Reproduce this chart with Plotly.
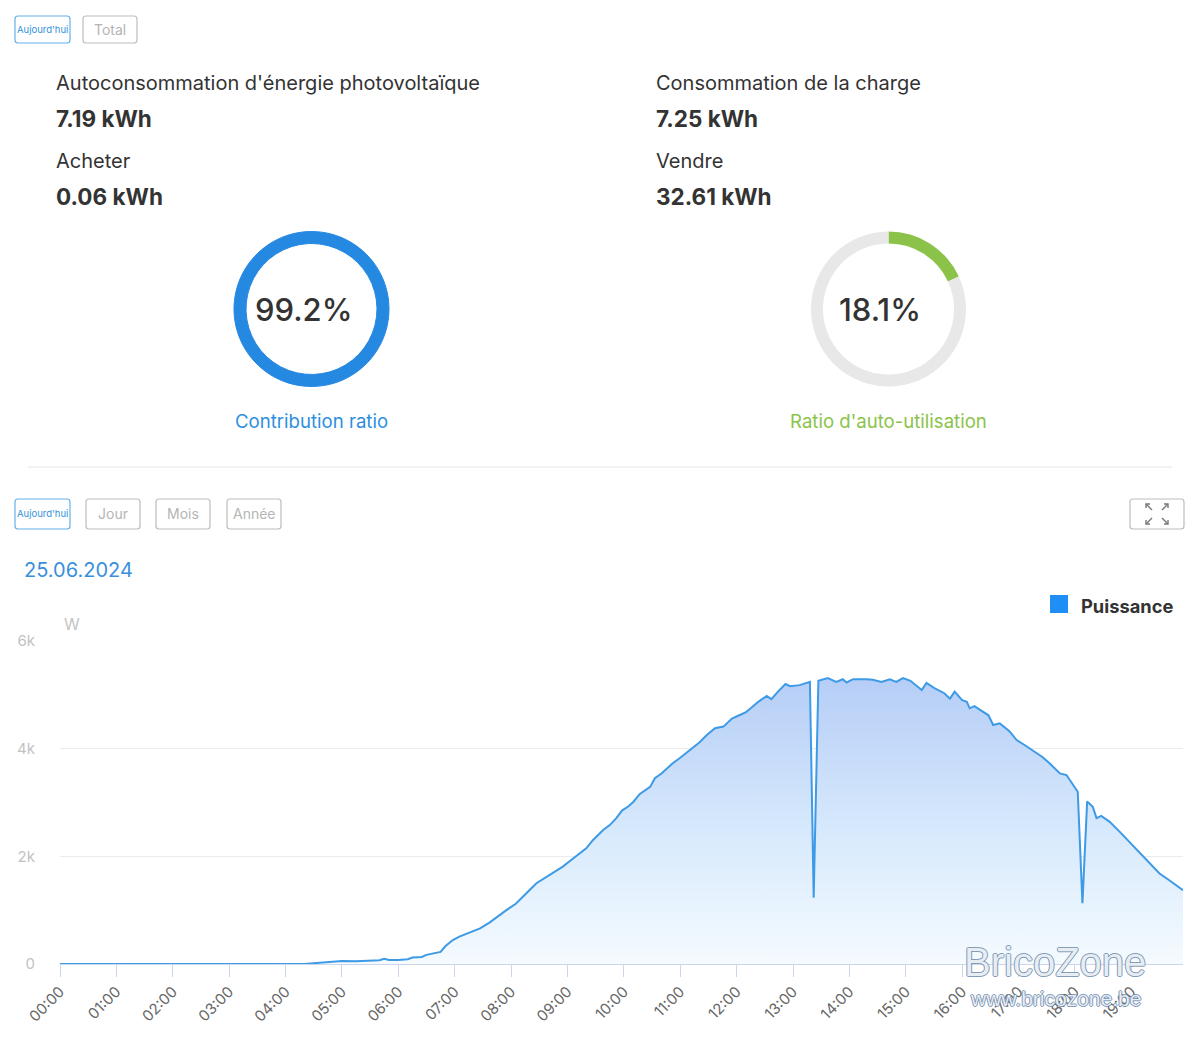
import plotly.graph_objects as go

# ---------------- data ----------------
DATE = "2024-06-25"
DATE_LABEL = "25.06.2024"

STAT_LABELS_LEFT = ["Autoconsommation d'énergie photovoltaïque", "Acheter"]
STAT_VALUES_LEFT = ["7.19 kWh", "0.06 kWh"]
STAT_LABELS_RIGHT = ["Consommation de la charge", "Vendre"]
STAT_VALUES_RIGHT = ["7.25 kWh", "32.61 kWh"]

CONTRIBUTION_RATIO = 99.2
SELF_USE_RATIO = 18.1

TIMES = ["00:00", "04:20", "04:30", "04:45", "05:00", "05:15", "05:30", "05:40", "05:45", "05:50",
         "06:00", "06:10", "06:15", "06:25", "06:30", "06:40", "06:45", "06:50", "06:58", "07:05",
         "07:13", "07:27", "07:37", "07:45", "07:55", "08:05", "08:13", "08:20", "08:27", "08:35",
         "08:45", "08:55", "09:06", "09:13", "09:20", "09:27", "09:38", "09:45", "09:52", "09:58",
         "10:05", "10:10", "10:17", "10:28", "10:33", "10:40", "10:52", "11:00", "11:10", "11:20",
         "11:28", "11:37", "11:46", "11:55", "12:04", "12:10", "12:15", "12:23", "12:32", "12:37",
         "12:44", "12:52", "12:57", "13:07", "13:18", "13:22", "13:27", "13:37", "13:46", "13:53",
         "13:57", "14:04", "14:18", "14:25", "14:34", "14:43", "14:50", "14:57", "15:05", "15:12",
         "15:17", "15:22", "15:30", "15:41", "15:47", "15:52", "16:00", "16:05", "16:08", "16:13",
         "16:22", "16:28", "16:33", "16:40", "16:50", "16:58", "17:08", "17:19", "17:25", "17:33",
         "17:44", "17:51", "18:03", "18:08", "18:13", "18:19", "18:23", "18:28", "18:37", "18:48",
         "18:58", "19:10", "19:20", "19:30", "19:40", "19:55"]
POWER = [0, 0, 15, 40, 55, 50, 60, 70, 95, 75,
         75, 90, 120, 130, 170, 210, 225, 330, 446, 510,
         570, 660, 770, 880, 1000, 1120, 1250, 1380, 1500, 1590,
         1700, 1810, 1960, 2050, 2150, 2300, 2490, 2580, 2710, 2850,
         2930, 3010, 3160, 3290, 3450, 3540, 3730, 3830, 3975, 4110,
         4250, 4380, 4410, 4560, 4630, 4680, 4750, 4870, 4980, 4920,
         5060, 5200, 5160, 5180, 5240, 1230, 5260, 5310, 5240, 5290,
         5230, 5290, 5290, 5280, 5240, 5290, 5240, 5310, 5260, 5150,
         5090, 5220, 5130, 5030, 4930, 5060, 4900, 4870, 4750, 4790,
         4690, 4620, 4440, 4470, 4330, 4160, 4050, 3910, 3850, 3730,
         3540, 3510, 3200, 1130, 3020, 2920, 2710, 2750, 2640, 2450,
         2270, 2060, 1870, 1680, 1560, 1370]

Y_TICKS = [0, 2000, 4000, 6000]
Y_TICK_TEXT = ["0", "2k", "4k", "6k"]
SERIES_NAME = "Puissance"

# ---------------- helpers ----------------
W, H = 1200, 1042
FONT = "Inter"


def px(x):
    return x / W


def py(y):
    return 1 - y / H


def rrect(x0, y0, x1, y1, r=3):
    rx, ry = r / W, r / H
    X0, X1 = px(x0), px(x1)
    Y0, Y1 = py(y0), py(y1)  # Y0 top (bigger), Y1 bottom
    return (f"M {X0+rx},{Y0} L {X1-rx},{Y0} Q {X1},{Y0} {X1},{Y0-ry} "
            f"L {X1},{Y1+ry} Q {X1},{Y1} {X1-rx},{Y1} L {X0+rx},{Y1} "
            f"Q {X0},{Y1} {X0},{Y1+ry} L {X0},{Y0-ry} Q {X0},{Y0} {X0+rx},{Y0} Z")


def ppath(points):
    return "M " + " L ".join(f"{px(x)},{py(y)}" for x, y in points)


shapes = []
annotations = []


def text(x, y, s, size, color="#333333", anchor="left", bold=False, family=FONT, **kw):
    annotations.append(dict(
        x=px(x), y=py(y), xref="paper", yref="paper", text=f"<b>{s}</b>" if bold else s,
        showarrow=False, xanchor=anchor, yanchor="middle",
        font=dict(size=size, color=color, family=family, **kw)))


def button(x0, y0, x1, y1, label, active=False):
    col = "#62b2ea" if active else "#bdbdbd"
    shapes.append(dict(type="path", path=rrect(x0, y0, x1, y1), xref="paper", yref="paper",
                       line=dict(color=col, width=1.2), fillcolor="white"))
    if active:
        text((x0 + x1) / 2, (y0 + y1) / 2, label, 9.5, color="#2f93dd", anchor="center")
    else:
        text((x0 + x1) / 2, (y0 + y1) / 2, label, 14, color="#b5b5b5", anchor="center")


# ---------------- figure ----------------
fig = go.Figure()

fig.add_trace(go.Scatter(
    x=[f"{DATE} {t}" for t in TIMES], y=POWER, name=SERIES_NAME,
    mode="lines", line=dict(color="#3d9ae6", width=2),
    fill="tozeroy",
    fillgradient=dict(type="vertical", start=0, stop=5300,
                      colorscale=[[0, "rgb(245,251,255)"], [0.45, "rgb(216,234,252)"],
                                  [1, "rgb(182,206,247)"]]),
    hoverinfo="skip", showlegend=False))

# donuts
ring_y = [py(309 + 77.5), py(309 - 77.5)]
fig.add_trace(go.Pie(values=[CONTRIBUTION_RATIO, 100 - CONTRIBUTION_RATIO], hole=0.845, sort=False,
                     direction="clockwise", textinfo="none", hoverinfo="skip",
                     marker=dict(colors=["#2589e2", "#2589e2"], line=dict(width=1, color="#2589e2")),
                     domain=dict(x=[px(234), px(389)], y=ring_y), showlegend=False))
fig.add_trace(go.Pie(values=[SELF_USE_RATIO, 100 - SELF_USE_RATIO], hole=0.845, sort=False,
                     direction="clockwise", textinfo="none", hoverinfo="skip",
                     marker=dict(colors=["#8bc34a", "#e8e8e8"], line=dict(width=0)),
                     domain=dict(x=[px(811), px(966)], y=ring_y), showlegend=False))

# header buttons
button(15, 16, 70, 43, "Aujourd'hui", active=True)
button(83, 16, 137, 43, "Total")

# stats
for i, (lab, val) in enumerate(zip(STAT_LABELS_LEFT, STAT_VALUES_LEFT)):
    text(54, 83 + i * 78, lab, 20)
    text(54, 118 + i * 78, val, 22.5, bold=True)
for i, (lab, val) in enumerate(zip(STAT_LABELS_RIGHT, STAT_VALUES_RIGHT)):
    text(654, 83 + i * 78, lab, 20)
    text(654, 118 + i * 78, val, 22.5, bold=True)

text(304, 309, f"{CONTRIBUTION_RATIO}%", 31, color="#333333", anchor="center", weight=500)
text(880, 309, f"{SELF_USE_RATIO}%", 31, color="#333333", anchor="center", weight=500)
text(311, 421, "Contribution ratio", 18.6, color="#2d8fe0", anchor="center")
text(888, 421, "Ratio d'auto-utilisation", 18.6, color="#8bc34a", anchor="center")

# separator
shapes.append(dict(type="line", xref="paper", yref="paper", x0=px(28), x1=px(1172), y0=py(467), y1=py(467),
                   line=dict(color="#e6e6e6", width=1)))

# second row buttons
button(15, 499, 70, 529, "Aujourd'hui", active=True)
button(86, 499, 140, 529, "Jour")
button(156, 499, 210, 529, "Mois")
button(227, 499, 281, 529, "Année")

# expand button with four outward arrows
shapes.append(dict(type="path", path=rrect(1130, 499, 1184, 529), xref="paper", yref="paper",
                   line=dict(color="#bdbdbd", width=1.2), fillcolor="white"))
arrow_style = dict(type="path", xref="paper", yref="paper", line=dict(color="#7a7a7a", width=1.4))
for (cx, cy), (sx, sy) in [((1146, 504), (1, 1)), ((1168, 504), (-1, 1)),
                           ((1146, 524), (1, -1)), ((1168, 524), (-1, -1))]:
    shapes.append(dict(arrow_style, path=ppath([(cx, cy), (cx + 6 * sx, cy + 6 * sy)])))
    shapes.append(dict(arrow_style, path=ppath([(cx, cy + 4 * sy), (cx, cy), (cx + 4 * sx, cy)])))

# date
text(22, 570, DATE_LABEL, 20, color="#3a8fdc")

# legend
shapes.append(dict(type="rect", xref="paper", yref="paper", x0=px(1050), x1=px(1068), y0=py(613), y1=py(595),
                   fillcolor="#1f8ff5", line=dict(width=0)))
text(1079, 606, SERIES_NAME, 18.3, color="#333333", bold=True)

# axis unit
text(62, 624, "W", 16, color="#c4c4c4")

# watermark
outline = "1px 0 0 #6f8cb0, -1px 0 0 #6f8cb0, 0 1px 0 #6f8cb0, 0 -1px 0 #6f8cb0"
text(1055, 962, "BricoZone", 40, color="rgba(255,255,255,0.85)", anchor="center",
     family="Liberation Sans", shadow=outline)
text(1055, 998, "www.bricozone.be", 21, color="rgba(255,255,255,0.85)", anchor="center",
     family="Liberation Sans", shadow=outline)

fig.update_layout(
    width=W, height=H, margin=dict(l=0, r=0, t=0, b=0, pad=0, autoexpand=False),
    paper_bgcolor="white", plot_bgcolor="white",
    font=dict(family=FONT),
    shapes=shapes, annotations=annotations, showlegend=False,
    xaxis=dict(type="date", domain=[px(60), px(1183)], automargin=False,
               range=[f"{DATE} 00:00", f"{DATE} 19:55"],
               tick0=f"{DATE} 00:00", dtick=3600000, tickformat="%H:%M", tickangle=-45,
               ticks="outside", ticklen=12, tickcolor="#ccd6eb", tickwidth=1,
               showline=True, linecolor="#ccd6eb", linewidth=1, showgrid=False, zeroline=False,
               tickfont=dict(size=15, color="#666666", family=FONT), fixedrange=True),
    yaxis=dict(domain=[py(964), py(641)], range=[0, 6000], automargin=False,
               tickvals=Y_TICKS, ticktext=Y_TICK_TEXT, ticks="", showgrid=True, gridcolor="#ebebeb",
               zeroline=False, showline=False, ticklabelstandoff=24,
               tickfont=dict(size=15, color="#c2c2c2", family=FONT), fixedrange=True),
)

fig.write_html("out.html", config=dict(displayModeBar=False))
